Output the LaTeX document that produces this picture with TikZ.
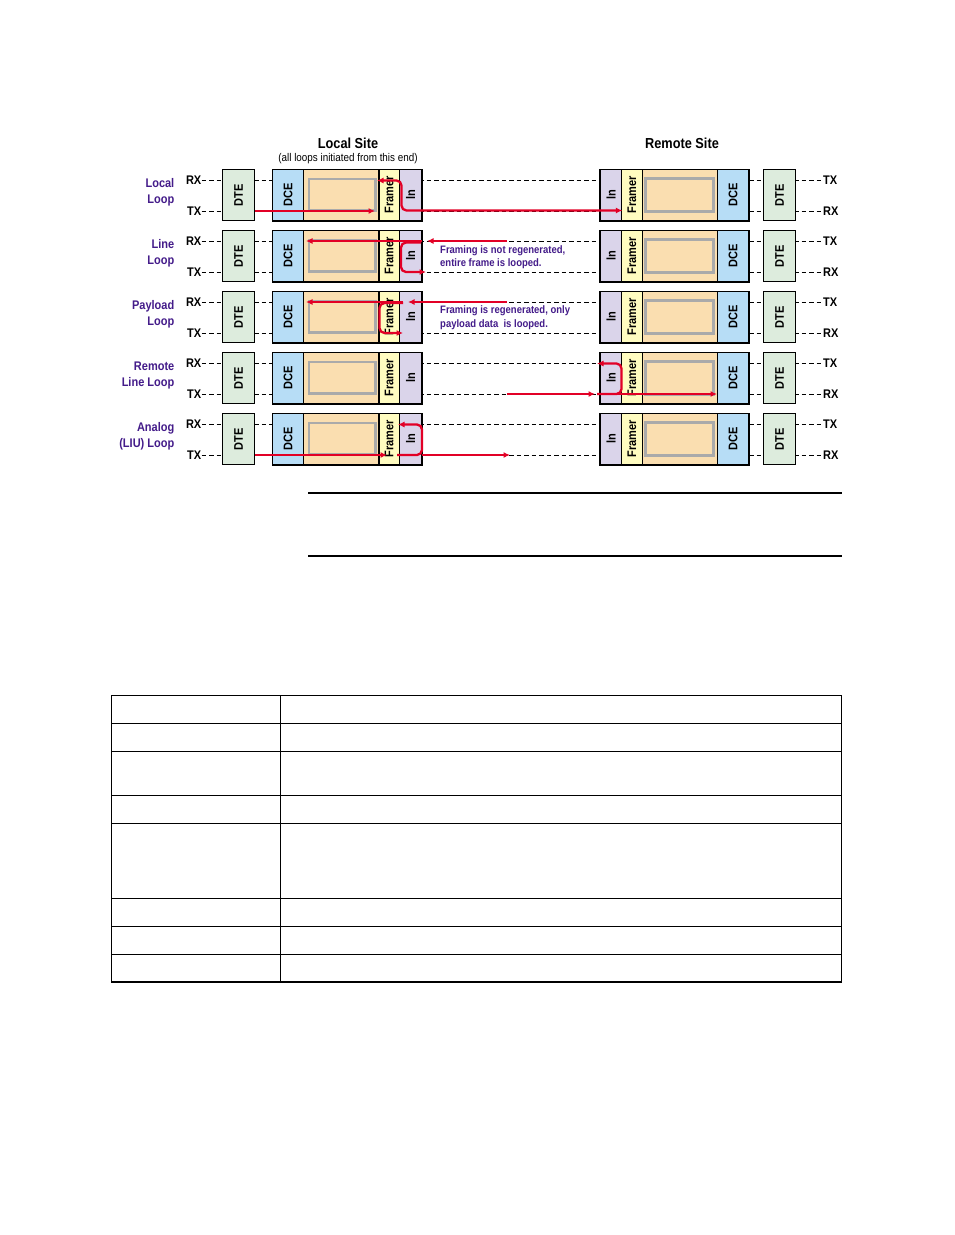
\documentclass[tikz,border=0pt]{standalone}
\usepackage{fontspec}
\setmainfont{Liberation Sans}[FakeStretch=0.88]
\usetikzlibrary{arrows.meta}
\definecolor{dtec}{RGB}{221,236,221}
\definecolor{dcec}{RGB}{183,221,246}
\definecolor{orc}{RGB}{250,222,176}
\definecolor{frc}{RGB}{255,252,192}
\definecolor{lnc}{RGB}{218,212,234}
\definecolor{grc}{RGB}{170,170,170}
\definecolor{redc}{RGB}{226,0,38}
\definecolor{purc}{RGB}{68,28,138}
\begin{document}
\begin{tikzpicture}[x=1pt,y=-1pt,
  box/.style={draw=black, line width=0.8pt, inner sep=0pt, minimum height=51pt,
    font=\bfseries\fontsize{12.5}{13}\selectfont},
  dtebox/.style={box, fill=dtec, minimum width=32pt},
  dcebox/.style={box, fill=dcec, minimum width=31pt},
  orbox/.style={box, fill=orc, minimum width=75pt},
  frbox/.style={box, fill=frc, minimum width=20.5pt},
  lnbox/.style={box, fill=lnc, minimum width=22pt},
  grayrect/.style={draw=grc, line width=2.8pt},
  dashln/.style={dash pattern=on 4.5pt off 3pt, line width=0.8pt},
  sig/.style={font=\bfseries\fontsize{12.5}{12}\selectfont, inner sep=0pt},
  rowlab/.style={text=purc, font=\bfseries\fontsize{12.5}{16}\selectfont, align=right, anchor=east, inner sep=0pt},
  note/.style={text=purc, font=\bfseries\fontsize{10.8}{13.5}\selectfont, align=left, anchor=west, inner sep=0pt},
  tip/.tip={Latex[length=6.5pt,width=6pt]},
  redthick/.style={draw=redc, line width=2.3pt, rounded corners=5pt},
  redthin/.style={draw=redc, line width=1.5pt, rounded corners=5pt},
  rule/.style={line width=1.2pt}
]
\useasboundingbox (0,0) rectangle (954,1235);
\fill[white] (0,0) rectangle (954,1235);

% headers
\node[font=\bfseries\fontsize{14.5}{14}\selectfont] (localsite) at (348,143) {Local Site};
\node[font=\fontsize{11.2}{11}\selectfont] (localsub) at (348,158.5) {(all loops initiated from this end)};
\node[font=\bfseries\fontsize{14.5}{14}\selectfont] (remotesite) at (682,143) {Remote Site};

\foreach \r/\la/\lb in {1/Local/Loop, 2/Line/Loop, 3/Payload/Loop, 4/Remote/Line Loop, 5/Analog/(LIU) Loop} {
  \pgfmathsetmacro\yo{61*(\r-1)}
  \begin{scope}[shift={(0,\yo)}]
    \node[rowlab] (lab\r) at (174.5,192.5) {\la\\\lb};
    \node[sig, anchor=east] (rxL\r) at (201.5,180) {RX};
    \node[sig, anchor=east] (txL\r) at (201.5,211) {TX};
    \node[sig, anchor=west] (txR\r) at (823,180) {TX};
    \node[sig, anchor=west] (rxR\r) at (823,211) {RX};
    \draw[dashln] (rxL\r.east) -- (txR\r.west);
    \draw[dashln] (txL\r.east) -- (rxR\r.west);
    % local site
    \node[dtebox] (dteL\r) at (238.5,195) {\rotatebox{90}{DTE}};
    \node[dcebox] (dceL\r) at (288,195) {\rotatebox{90}{DCE}};
    \node[orbox] (orL\r) at (341.25,195) {};
    \node[frbox] (frL\r) at (389.25,195) {\rotatebox{90}{Framer}};
    \node[lnbox] (lnL\r) at (410.5,195) {\rotatebox{90}{ln}};
    \draw[grayrect] (309,179) rectangle (375.5,210.5);
    \draw[line width=1.2pt] (dceL\r.north west) rectangle (lnL\r.south east);
    \draw[line width=2pt] (lnL\r.north east) -- (lnL\r.south east);
    % remote site
    \node[lnbox] (lnR\r) at (611,195) {\rotatebox{90}{ln}};
    \node[frbox] (frR\r) at (632,195) {\rotatebox{90}{Framer}};
    \node[orbox] (orR\r) at (680,195) {};
    \node[dcebox] (dceR\r) at (733,195) {\rotatebox{90}{DCE}};
    \node[dtebox] (dteR\r) at (779.5,195) {\rotatebox{90}{DTE}};
    \draw[grayrect] (645.5,178.5) rectangle (713.5,211.5);
    \draw[line width=1.2pt] (lnR\r.north west) rectangle (dceR\r.south east);
  \end{scope}
}

% notes
\node[note] (note2) at (440,257) {Framing is not regenerated,\\entire frame is looped.};
\node[note] (note3) at (440,317.5) {Framing is regenerated, only\\payload data\ \ is looped.};

% row 1: local loop
\draw[redthin, -tip] (dteL1.east |- txL1.east) -- (375,211);
\draw[redthick, tip-tip] (377,180.5) -- (401.5,180.5) -- (401.5,210.5) -- (lnR1.east |- 0,210.5);
% row 2: line loop
\draw[redthick, -tip] (506.5,241) -- (427,241);
\draw[redthick, -tip] (422,241) -- (306,241);
\draw[redthick, -tip] (421,242.5) -- (401,242.5) -- (401,272) -- (426,272);
% row 3: payload loop
\draw[redthin, -tip] (506.5,302) -- (408,302);
\draw[redthick, -tip] (403,302) -- (306,302);
\draw[redthick, -tip] (403,303) -- (379.5,303) -- (379.5,333) -- (403,333);
% row 4: remote line loop
\draw[redthick, -tip] (507,394) -- (595,394);
\draw[redthick, -tip] (597,394) -- (621.5,394) -- (621.5,363.5) -- (597,363.5);
\draw[redthick, -tip] (597,394) -- (717,394);
% row 5: analog loop
\draw[redthick, -tip] (dteL5.east |- txL5.east) -- (387,455);
\draw[redthick, -tip] (397,455) -- (422,455) -- (422,424.5) -- (398,424.5);
\draw[redthick, -tip] (422,455) -- (510,455);

% horizontal rules
\draw[rule] (308,493) -- (842,493);
\draw[rule] (308,556) -- (842,556);

% table
\draw[rule] (111.5,695.5) rectangle (841.5,982);
\draw[rule] (280.5,695.5) -- (280.5,982);
\foreach \yy in {723.5,751.5,795.5,823.5,898.5,926.5,954.5} {
  \draw[rule] (111.5,\yy) -- (841.5,\yy);
}
\end{tikzpicture}
\end{document}
